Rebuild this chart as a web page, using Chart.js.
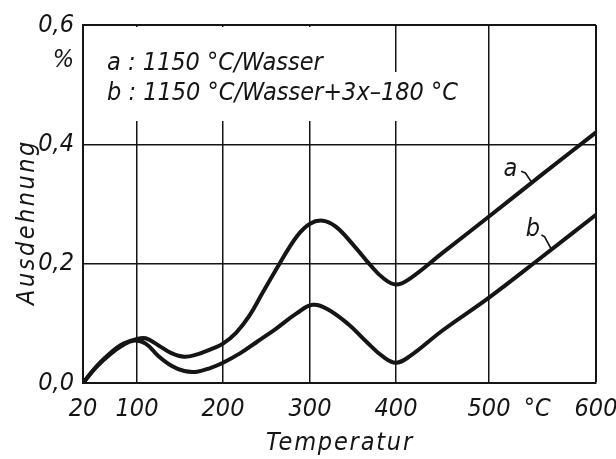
<!DOCTYPE html>
<html>
<head>
<meta charset="utf-8">
<script src="https://cdn.jsdelivr.net/npm/chart.js@4"></script>
<style>
  body { margin: 0; background: #fff; }
  canvas { display: block; }
</style>
</head>
<body>
<canvas id="chart" width="616" height="459"></canvas>
<script>
// data --------------------
const tempA = [20, 40, 60, 80, 100, 110, 125, 140, 155, 170, 185, 200, 215, 230, 245, 265, 285, 300, 315, 330, 350, 370, 385, 400, 415, 450, 500, 550, 600];
const dehnA = [0, 0.028, 0.05, 0.066, 0.074, 0.075, 0.063, 0.05, 0.044, 0.048, 0.056, 0.066, 0.084, 0.112, 0.15, 0.2, 0.246, 0.267, 0.272, 0.262, 0.232, 0.198, 0.176, 0.165, 0.175, 0.218, 0.279, 0.35, 0.42];
const tempB = [20, 40, 60, 80, 95, 110, 125, 140, 155, 170, 185, 200, 220, 240, 260, 285, 303, 320, 345, 365, 385, 400, 415, 450, 500, 550, 600];
const dehnB = [0, 0.027, 0.048, 0.064, 0.071, 0.066, 0.045, 0.029, 0.02, 0.019, 0.025, 0.034, 0.05, 0.07, 0.09, 0.117, 0.131, 0.124, 0.098, 0.07, 0.044, 0.034, 0.045, 0.088, 0.143, 0.212, 0.282];

const UNIT_TICK = 545; // x position that carries the °C label
const xTicks = [20, 100, 200, 300, 400, 500, UNIT_TICK, 600];
const yTicks = [0, 0.2, 0.4, 0.54, 0.6]; // 0.54 carries the % label
const legendLines = ['a : 1150 °C/Wasser', 'b : 1150 °C/Wasser+3x–180 °C'];

// the printed temperature axis is not evenly spaced
const warpAt = [20, 100, 200, 300, 400, 500, 600];
const warpFrac = [0, 0.1053, 0.2729, 0.4425, 0.6101, 0.7914, 1];

const INK = '#151515';
const FONT = "'DejaVu Sans Condensed', 'Liberation Sans Narrow', sans-serif";

class WarpScale extends Chart.LinearScale {
  static id = 'warp';
  toDecimal(v) {
    for (let i = 1; i < warpAt.length; i++) {
      if (v <= warpAt[i] || i === warpAt.length - 1) {
        return warpFrac[i - 1] + (v - warpAt[i - 1]) / (warpAt[i] - warpAt[i - 1]) * (warpFrac[i] - warpFrac[i - 1]);
      }
    }
    return 0;
  }
  getPixelForValue(value) {
    if (value === null || isNaN(value)) return NaN;
    return this.getPixelForDecimal(this.toDecimal(value));
  }
  getValueForPixel(pixel) {
    const d = this.getDecimalForPixel(pixel);
    for (let i = 1; i < warpFrac.length; i++) {
      if (d <= warpFrac[i] || i === warpFrac.length - 1) {
        return warpAt[i - 1] + (d - warpFrac[i - 1]) / (warpFrac[i] - warpFrac[i - 1]) * (warpAt[i] - warpAt[i - 1]);
      }
    }
    return warpAt[0];
  }
}
Chart.register(WarpScale);

Chart.defaults.font.family = FONT;
Chart.defaults.font.style = 'italic';
Chart.defaults.font.size = 25;
Chart.defaults.color = INK;

const toPoints = (xs, ys) => xs.map((x, i) => ({ x, y: ys[i] }));

// text, legend box and curve labels
const drawingText = {
  id: 'drawingText',
  beforeDatasetsDraw(chart) {
    const { ctx } = chart;
    ctx.save();
    ctx.fillStyle = '#fff';
    // the legend sits in a blank patch of the grid
    ctx.fillRect(85, 27, 270, 46);
    ctx.fillRect(85, 72, 375, 49);
    ctx.restore();
  },
  afterDatasetsDraw(chart) {
    const { ctx, scales } = chart;
    const { x, y } = scales;
    ctx.save();
    ctx.fillStyle = INK;
    ctx.strokeStyle = INK;
    ctx.font = `italic 25px ${FONT}`;
    ctx.textBaseline = 'alphabetic';
    ctx.textAlign = 'left';
    ctx.fillText(legendLines[0], 107, 70);
    ctx.fillText(legendLines[1], 107, 100);

    // axis titles
    ctx.textAlign = 'center';
    ctx.letterSpacing = '1.8px';
    ctx.fillText('Temperatur', 340, 450);
    ctx.save();
    ctx.translate(34, 222);
    ctx.rotate(-Math.PI / 2);
    ctx.letterSpacing = '2.5px';
    ctx.fillText('Ausdehnung', 0, 0);
    ctx.restore();
    ctx.letterSpacing = '0px';

    // curve labels with leaders
    const labels = [
      { text: 'a', at: [520, 0.358], lead: [[530, 0.355], [534, 0.352], [540, 0.336]] },
      { text: 'b', at: [541, 0.257], lead: [[549, 0.248], [552, 0.245], [558, 0.225]] },
    ];
    ctx.textBaseline = 'middle';
    ctx.lineWidth = 1.6;
    labels.forEach(l => {
      ctx.fillText(l.text, x.getPixelForValue(l.at[0]), y.getPixelForValue(l.at[1]));
      ctx.beginPath();
      l.lead.forEach(([t, v], i) => {
        const px = x.getPixelForValue(t);
        const py = y.getPixelForValue(v);
        i ? ctx.lineTo(px, py) : ctx.moveTo(px, py);
      });
      ctx.stroke();
    });
    ctx.restore();
  },
};

const lineStyle = {
  borderColor: INK,
  borderWidth: 4,
  pointRadius: 0,
  fill: false,
  tension: 0.4,
  borderCapStyle: 'round',
  borderJoinStyle: 'round',
};

new Chart(document.getElementById('chart'), {
  type: 'line',
  data: {
    datasets: [
      { label: 'a', data: toPoints(tempA, dehnA), ...lineStyle },
      { label: 'b', data: toPoints(tempB, dehnB), ...lineStyle },
    ],
  },
  options: {
    responsive: false,
    animation: false,
    layout: { padding: { top: 25, right: 20, left: 0, bottom: 0 } },
    plugins: { legend: { display: false }, tooltip: { enabled: false } },
    scales: {
      x: {
        type: 'warp',
        min: 20,
        max: 600,
        afterBuildTicks: s => { s.ticks = xTicks.map(value => ({ value })); },
        afterFit: s => {
          s.height = 76;
          s.paddingLeft = 0;
          s.paddingRight = 0;
        },
        ticks: {
          autoSkip: false,
          maxRotation: 0,
          padding: 11,
          callback: v => (v === UNIT_TICK ? '°C' : String(v)),
        },
        grid: {
          drawTicks: false,
          color: c => (c.tick && (c.tick.value === 20 || c.tick.value === UNIT_TICK) ? 'rgba(0,0,0,0)' : INK),
          lineWidth: c => (c.tick && c.tick.value === 600 ? 2 : 1.5),
        },
        border: { display: true, color: INK, width: 2 },
      },
      y: {
        type: 'linear',
        min: 0,
        max: 0.6,
        afterBuildTicks: s => { s.ticks = yTicks.map(value => ({ value })); },
        afterFit: s => {
          s.width = 83;
          s.paddingTop = 0;
          s.paddingBottom = 0;
        },
        ticks: {
          padding: 9,
          callback: v => (v === 0.54 ? '%' : v.toFixed(1).replace('.', ',')),
        },
        grid: {
          drawTicks: false,
          color: c => (c.tick && (c.tick.value === 0 || c.tick.value === 0.54) ? 'rgba(0,0,0,0)' : INK),
          lineWidth: c => (c.tick && c.tick.value === 0.6 ? 2 : 1.5),
        },
        border: { display: true, color: INK, width: 2 },
      },
    },
  },
  plugins: [drawingText],
});
</script>
</body>
</html>
